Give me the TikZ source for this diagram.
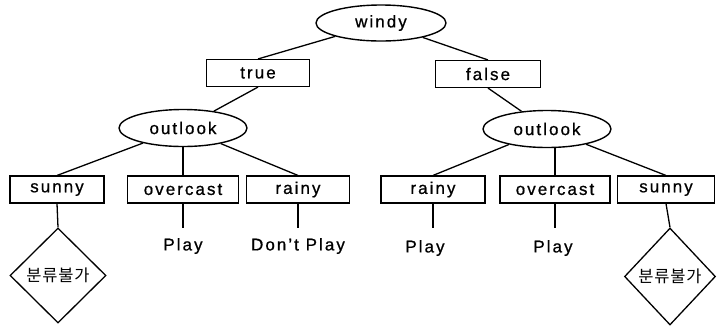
\documentclass[tikz,border=0pt]{standalone}
\usepackage{fontspec}
\setmainfont{Liberation Sans}[LetterSpace=12, FakeBold=0.8]
\newfontfamily\krfont{Noto Sans CJK KR}[LetterSpace=5]
\usetikzlibrary{shapes.geometric}
\tikzset{
  every node/.style={font=\fontsize{17}{20}\selectfont},
  oval/.style={draw, ellipse, line width=1.4pt, inner sep=0pt},
  valbox/.style={draw, rectangle, line width=1.1pt, inner sep=0pt, minimum height=27pt},
  leaf/.style={inner sep=0pt},
  undecided/.style={draw, diamond, line width=1.3pt, inner sep=0pt, font=\krfont\fontsize{16.5}{19}\selectfont},
  edge/.style={line width=1.3pt},
}
\begin{document}
\begin{tikzpicture}[x=1pt, y=-1pt]
\useasboundingbox (0,0) rectangle (718,325);

% root and branch values
\node[oval, minimum width=130pt, minimum height=36pt] (windy) at (381,23) {windy};
\node[valbox, minimum width=103pt] (true) at (258,73) {true};
\node[valbox, minimum width=105pt] (false) at (488,74) {false};

% second level tests
\node[oval, minimum width=128pt, minimum height=37pt] (o1) at (183,128) {outlook};
\node[oval, minimum width=128pt, minimum height=37pt] (o2) at (547,129) {outlook};

% outlook values
\node[valbox, minimum width=94pt] (s1) at (57,189.5) {sunny};
\node[valbox, minimum width=111pt] (ov1) at (183,189.5) {overcast};
\node[valbox, minimum width=103pt] (r1) at (298,189.5) {rainy};
\node[valbox, minimum width=104pt] (r2) at (433,189.5) {rainy};
\node[valbox, minimum width=110pt] (ov2) at (555,189.5) {overcast};
\node[valbox, minimum width=97pt] (s2) at (666,189.5) {sunny};

% leaves
\node[leaf] (p1) at (183,246) {Play};
\node[leaf] (dp) at (298,246) {Don't Play};
\node[leaf] (p2) at (425,248) {Play};
\node[leaf] (p3) at (553,248) {Play};
\node[undecided, minimum width=96pt, minimum height=95pt] (d1) at (58,275.5) {분류불가};
\node[undecided, minimum width=91pt, minimum height=97pt] (d2) at (670,276.5) {분류불가};

% connectors
\draw[edge] (windy) -- (true.north);
\draw[edge] (windy) -- (false.north);
\draw[edge] (true.south) -- (o1);
\draw[edge] (false.south) -- (o2);
\draw[edge] (o1) -- (s1.north);
\draw[edge] (o1.south) -- (ov1.north);
\draw[edge] (o1) -- (r1.north);
\draw[edge] (o2) -- (r2.north);
\draw[edge] (ov2.north |- o2.south) -- (ov2.north);
\draw[edge] (o2) -- (s2.north);
\draw[edge, shorten >=10pt] (ov1.south) -- (p1.north);
\draw[edge, shorten >=10pt] (r1.south) -- (dp.north);
\draw[edge, shorten >=12pt] (r2.south) -- (r2.south |- p2.north);
\draw[edge, shorten >=12pt] (ov2.south) -- (ov2.south |- p3.north);
\draw[edge] (s1.south) -- (d1.north);
\draw[edge] (s2.south) -- (d2.north);
\end{tikzpicture}
\end{document}
